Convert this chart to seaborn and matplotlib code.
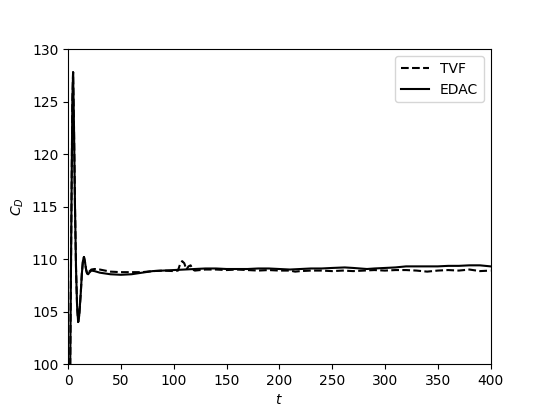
import matplotlib
matplotlib.use("Agg")
import matplotlib.pyplot as plt
import seaborn as sns

# EDAC (solid) drag coefficient history
t_edac = [0, 1, 2, 3, 4, 4.7, 5.5, 6.5, 7.5, 8.5, 9.5, 10.5, 12, 13, 14, 15, 16, 17, 18, 19,
          20, 22, 25, 30, 40, 50, 60, 70, 80, 90, 100, 110, 120, 130, 140, 150,
          160, 170, 180, 190, 200, 210, 220, 230, 240, 250, 262, 270, 283, 290,
          300, 310, 320, 330, 340, 350, 360, 370, 380, 390, 400]
cd_edac = [90, 95, 100, 113, 125, 127.8, 123, 115, 109, 105.5, 104, 104.6, 106.8,
           108.6, 109.8, 110.2, 109.7, 109.0, 108.6, 108.55, 108.7, 108.9, 108.85,
           108.7, 108.55, 108.5, 108.55, 108.7, 108.85, 108.9, 108.95, 109.0,
           109.05, 109.1, 109.1, 109.05, 109.05, 109.05, 109.1, 109.1, 109.05,
           109.0, 109.05, 109.1, 109.1, 109.15, 109.2, 109.15, 109.05, 109.1,
           109.15, 109.2, 109.3, 109.3, 109.3, 109.3, 109.35, 109.35, 109.4,
           109.4, 109.3]

# TVF (dashed) drag coefficient history
t_tvf = [0, 1, 2, 3, 4, 4.7, 5.5, 6.5, 7.5, 8.5, 9.5, 10.5, 12, 13, 14, 15, 16, 17, 18, 19,
         20, 22, 25, 30, 35, 40, 50, 60, 70, 80, 90, 100, 104, 106, 108, 110,
         112, 114, 116, 118, 120, 130, 140, 150, 160, 170, 180, 190, 200, 210,
         215, 220, 230, 240, 250, 260, 270, 280, 290, 300, 310, 320, 330, 340,
         350, 360, 370, 380, 390, 400]
cd_tvf = [90, 95, 100, 113, 125, 127.8, 123, 115, 109, 105.5, 104, 104.6, 106.8,
          108.6, 109.8, 110.2, 109.7, 109.0, 108.6, 108.6, 108.8, 109.0, 109.05,
          109.0, 108.9, 108.8, 108.75, 108.75, 108.75, 108.85, 108.9, 108.85,
          108.9, 109.5, 109.8, 109.6, 109.0, 109.3, 109.4, 109.0, 108.9, 109.0,
          109.0, 108.95, 109.0, 108.95, 108.9, 108.95, 108.9, 108.9, 108.8,
          108.85, 108.9, 108.9, 108.85, 108.9, 108.85, 108.9, 108.95, 108.9,
          108.95, 108.95, 108.9, 108.8, 108.9, 108.95, 108.9, 109.0, 108.85,
          108.9]

fig, ax = plt.subplots(figsize=(5.45, 4.09), dpi=100)

sns.lineplot(x=t_tvf, y=cd_tvf, color="k", linestyle="--", linewidth=1.5,
             label="TVF", ax=ax)
sns.lineplot(x=t_edac, y=cd_edac, color="k", linestyle="-", linewidth=1.5,
             label="EDAC", ax=ax)

ax.set_xlim(0, 400)
ax.set_ylim(100, 130)
ax.set_xticks(range(0, 401, 50))
ax.set_yticks(range(100, 131, 5))
ax.set_xlabel("$t$")
ax.set_ylabel("$C_D$")
ax.legend(loc="upper right")

fig.savefig("out.png", dpi=100)
